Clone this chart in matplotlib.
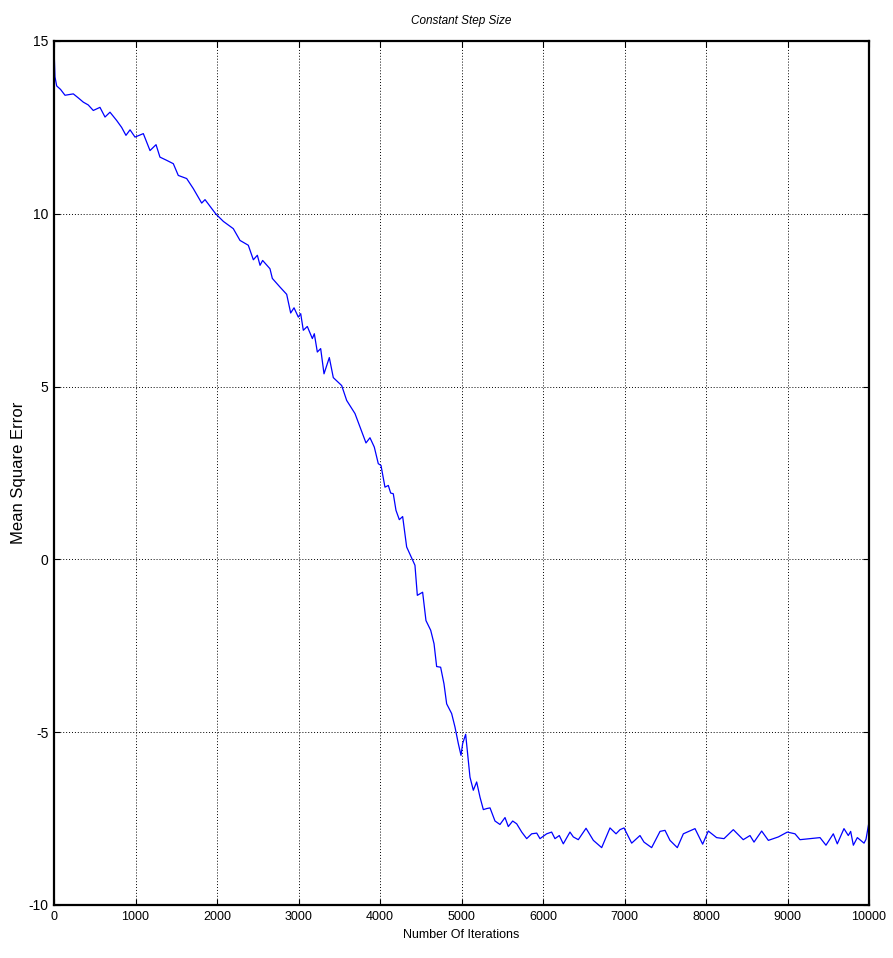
import matplotlib
matplotlib.use("Agg")
import matplotlib.pyplot as plt

iterations = [0, 12, 33, 80, 135, 237, 300, 360, 420, 482, 564, 626, 687, 769, 830, 883, 933, 994,
              1096, 1178, 1252, 1300, 1380, 1464, 1525, 1628, 1709, 1812, 1853, 1984, 2078, 2200,
              2282, 2384, 2446, 2495, 2528, 2560, 2650, 2679, 2773, 2855, 2904, 2945, 2998, 3027,
              3059, 3108, 3170, 3194, 3231, 3272, 3313, 3378, 3427, 3530, 3591, 3693, 3755, 3828,
              3877, 3930, 3979, 4012, 4061, 4102, 4131, 4163, 4196, 4237, 4278, 4327, 4401, 4429,
              4458, 4523, 4564, 4622, 4663, 4695, 4744, 4785, 4818, 4879, 4920, 4961, 4994, 5014,
              5051, 5084, 5104, 5145, 5186, 5227, 5268, 5309, 5350, 5411, 5472, 5534, 5574, 5628,
              5677, 5739, 5800, 5861, 5923, 5963, 6045, 6106, 6147, 6200, 6249, 6331, 6372, 6433,
              6528, 6618, 6720, 6822, 6896, 6945, 6994, 7088, 7190, 7239, 7333, 7436, 7497, 7558,
              7648, 7722, 7865, 7959, 8028, 8130, 8221, 8335, 8457, 8540, 8589, 8683, 8765, 8888,
              8998, 9092, 9153, 9276, 9399, 9472, 9562, 9611, 9693, 9746, 9775, 9808, 9857, 9939,
              9963, 10000]
mse = [14.8, 13.96, 13.7, 13.6, 13.43, 13.47, 13.35, 13.23, 13.15, 12.99, 13.08, 12.80, 12.94,
       12.70, 12.5, 12.27, 12.43, 12.22, 12.32, 11.83, 12.0, 11.64, 11.55, 11.45, 11.11, 11.02,
       10.73, 10.31, 10.41, 10.0, 9.78, 9.57, 9.23, 9.09, 8.67, 8.80, 8.51, 8.65, 8.41, 8.13,
       7.88, 7.67, 7.13, 7.28, 7.01, 7.11, 6.63, 6.74, 6.39, 6.53, 6.00, 6.10, 5.37, 5.84, 5.26,
       5.03, 4.60, 4.22, 3.83, 3.37, 3.52, 3.25, 2.77, 2.72, 2.09, 2.14, 1.92, 1.90, 1.42, 1.15,
       1.24, 0.36, -0.03, -0.17, -1.04, -0.95, -1.77, -2.05, -2.44, -3.10, -3.12, -3.60, -4.18,
       -4.46, -4.85, -5.33, -5.67, -5.33, -5.06, -5.82, -6.30, -6.68, -6.44, -6.88, -7.24, -7.21,
       -7.19, -7.57, -7.67, -7.47, -7.73, -7.57, -7.65, -7.89, -8.08, -7.94, -7.92, -8.08, -7.94,
       -7.89, -8.08, -7.99, -8.23, -7.89, -8.03, -8.11, -7.78, -8.13, -8.34, -7.77, -7.94, -7.82,
       -7.77, -8.21, -7.99, -8.18, -8.34, -7.87, -7.84, -8.13, -8.34, -7.94, -7.79, -8.24, -7.86,
       -8.05, -8.08, -7.82, -8.11, -7.99, -8.18, -7.86, -8.13, -8.03, -7.89, -7.94, -8.11, -8.08,
       -8.05, -8.27, -7.94, -8.23, -7.79, -7.99, -7.87, -8.27, -8.05, -8.21, -8.10, -7.6]

x_ticks = [0, 1000, 2000, 3000, 4000, 5000, 6000, 7000, 8000, 9000, 10000]
y_ticks = [-10, -5, 0, 5, 10, 15]
y_tick_labels = ["-10", "-5", "0", "5", "10", "15"]

plt.rcParams['font.family'] = ['Liberation Sans', 'DejaVu Sans']

fig = plt.figure(figsize=(8.93, 9.58), dpi=100)
ax = fig.add_axes([54/893, 53/958, 815/893, 864/958])
ax.plot(iterations, mse, color='#0000ff', linewidth=0.9)
ax.set_xlim(0, 10000)
ax.set_ylim(-10, 15)
ax.set_xticks(x_ticks)
ax.set_xticklabels([str(t) for t in x_ticks], fontsize=9)
ax.set_yticks(y_ticks)
ax.set_yticklabels(y_tick_labels, fontsize=10)
ax.grid(True, color='black', linestyle=(0, (1, 2)), linewidth=0.7)
ax.tick_params(direction='in', top=True, right=True, length=4, width=0.8, pad=4)
for s in ax.spines.values():
    s.set_linewidth(1.6)
ax.set_title("Constant Step Size", fontsize=8.5, style='italic', pad=12)
ax.set_xlabel("Number Of Iterations", fontsize=9, labelpad=5)
ax.set_ylabel("Mean Square Error", fontsize=12)
ax.yaxis.set_label_coords(-0.034, 0.5)
fig.savefig("out.png", dpi=100)
